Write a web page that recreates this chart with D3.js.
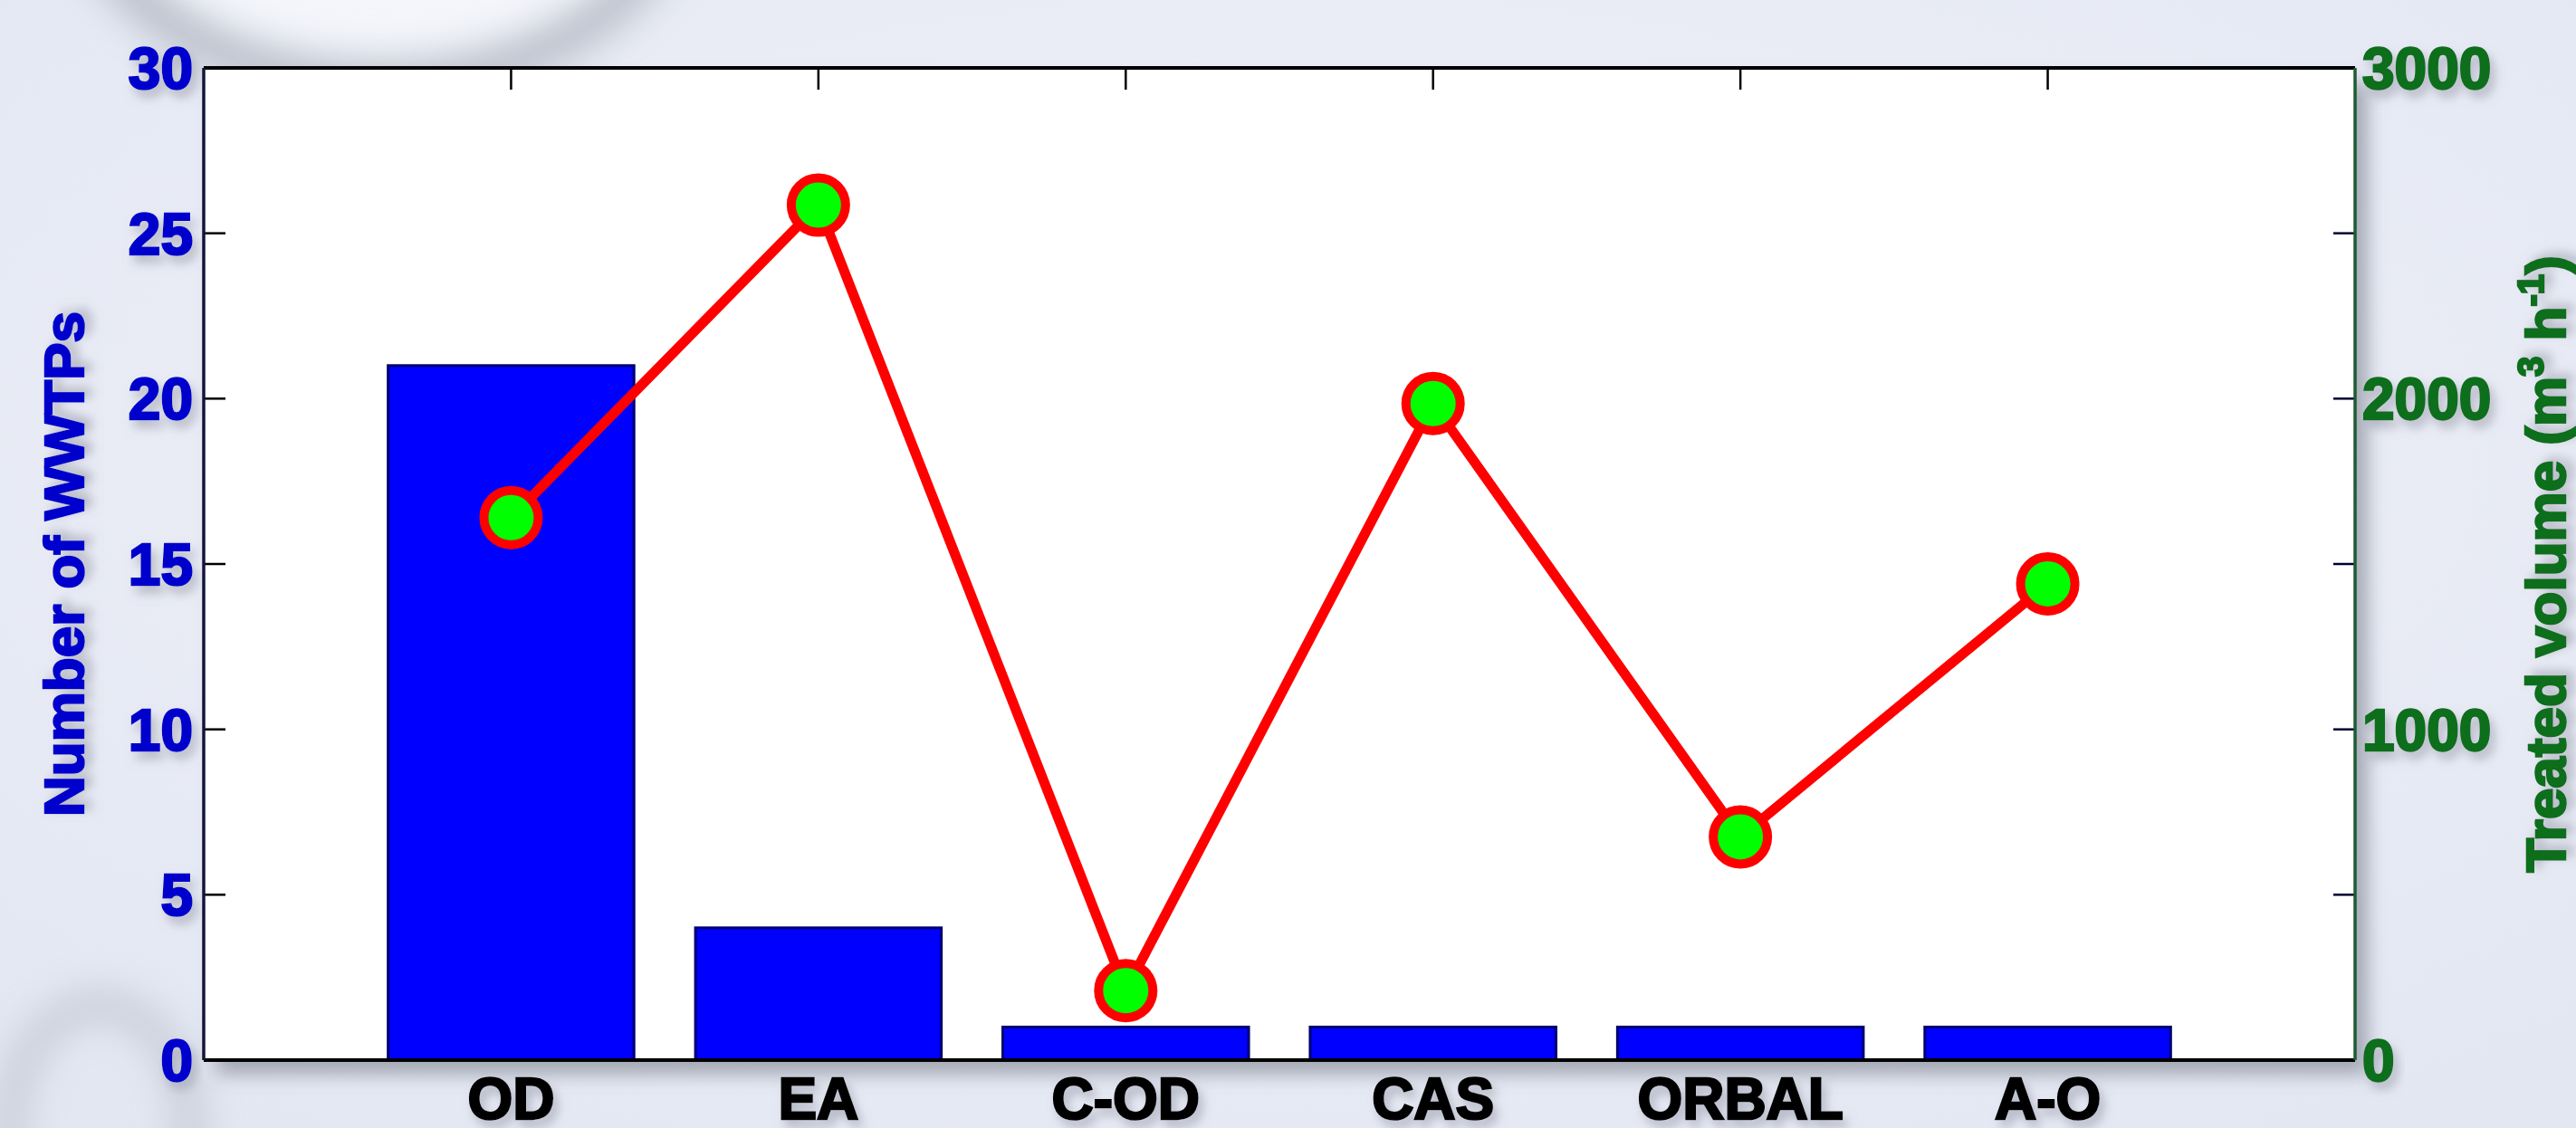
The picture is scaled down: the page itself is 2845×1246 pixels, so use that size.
<!DOCTYPE html>
<html>
<head>
<meta charset="utf-8">
<script src="https://cdn.jsdelivr.net/npm/d3@7"></script>
<style>
  body { margin: 0; background: #e9edf6; overflow: hidden; }
  text { font-family: "Liberation Sans", Arial, sans-serif; font-weight: bold; stroke-width: 2.5; }
</style>
</head>
<body>
<script>
// data
var categories = ["OD", "EA", "C-OD", "CAS", "ORBAL", "A-O"];
var plantCounts = [21, 4, 1, 1, 1, 1];
var treatedVolume = [1640, 2585, 210, 1985, 675, 1440];
var leftTicks = [0, 5, 10, 15, 20, 25, 30];
var rightTicks = [0, 500, 1000, 1500, 2000, 2500, 3000];
var rightLabels = [0, 1000, 2000, 3000];

var W = 2845, H = 1246;
var plotL = 225, plotR = 2601, plotT = 75, plotB = 1171;
var tickLen = 24;
var blue = "#0000cc", green = "#0a6e1e";

var svg = d3.select("body").append("svg")
  .attr("width", W).attr("height", H);

var defs = svg.append("defs");

var bg = defs.append("radialGradient").attr("id", "bgGrad")
  .attr("cx", "50%").attr("cy", "40%").attr("r", "75%");
bg.append("stop").attr("offset", "0%").attr("stop-color", "#f0f2f9");
bg.append("stop").attr("offset", "100%").attr("stop-color", "#e3e7f2");

defs.append("filter").attr("id", "blur30")
  .attr("x", "-50%").attr("y", "-50%").attr("width", "200%").attr("height", "200%")
  .append("feGaussianBlur").attr("stdDeviation", 22);

var boxShadow = defs.append("filter").attr("id", "boxShadow")
  .attr("x", "-5%").attr("y", "-5%").attr("width", "112%").attr("height", "115%");
boxShadow.append("feDropShadow").attr("dx", 14).attr("dy", 16)
  .attr("stdDeviation", 10).attr("flood-color", "#6d7380").attr("flood-opacity", 0.55);

var txtShadow = defs.append("filter").attr("id", "txtShadow")
  .attr("x", "-20%").attr("y", "-20%").attr("width", "150%").attr("height", "160%");
txtShadow.append("feDropShadow").attr("dx", 5).attr("dy", 8)
  .attr("stdDeviation", 6).attr("flood-color", "#8a8f9c").attr("flood-opacity", 0.55);

// background and the glossy blobs of the screenshot theme
svg.append("rect").attr("width", W).attr("height", H).attr("fill", "url(#bgGrad)");
svg.append("ellipse")
  .attr("cx", 420).attr("cy", -140).attr("rx", 330).attr("ry", 230)
  .attr("fill", "none").attr("stroke", "#8c919b").attr("stroke-width", 40)
  .attr("opacity", 0.55).attr("filter", "url(#blur30)");
svg.append("ellipse")
  .attr("cx", 420).attr("cy", -150).attr("rx", 300).attr("ry", 200)
  .attr("fill", "#f8f9fc").attr("opacity", 0.8).attr("filter", "url(#blur30)");
svg.append("ellipse")
  .attr("cx", 110).attr("cy", 1250).attr("rx", 100).attr("ry", 140)
  .attr("fill", "none").attr("stroke", "#9aa0aa").attr("stroke-width", 26)
  .attr("opacity", 0.5).attr("filter", "url(#blur30)");

// scales
var x = d3.scaleLinear().domain([0, categories.length + 1]).range([plotL, plotR]);
var yL = d3.scaleLinear().domain([0, 30]).range([plotB, plotT]);
var yR = d3.scaleLinear().domain([0, 3000]).range([plotB, plotT]);
var step = x(1) - x(0);
var barW = 0.8 * step;

// plot box
svg.append("rect")
  .attr("x", plotL).attr("y", plotT)
  .attr("width", plotR - plotL).attr("height", plotB - plotT)
  .attr("fill", "#ffffff").attr("filter", "url(#boxShadow)");

// x ticks (top and bottom, inward)
categories.forEach(function(c, i) {
  svg.append("line")
    .attr("x1", x(i + 1)).attr("x2", x(i + 1))
    .attr("y1", plotT).attr("y2", plotT + tickLen)
    .attr("stroke", "#000").attr("stroke-width", 2.5);
  svg.append("line")
    .attr("x1", x(i + 1)).attr("x2", x(i + 1))
    .attr("y1", plotB).attr("y2", plotB - tickLen)
    .attr("stroke", "#000").attr("stroke-width", 2.5);
});

// bars
svg.selectAll("rect.bar")
  .data(plantCounts)
  .enter().append("rect")
  .attr("class", "bar")
  .attr("x", function(d, i) { return x(i + 1) - barW / 2; })
  .attr("y", function(d) { return yL(d); })
  .attr("width", barW)
  .attr("height", function(d) { return yL(0) - yL(d); })
  .attr("fill", "#0000ff")
  .attr("stroke", "#000070")
  .attr("stroke-width", 3);

// left axis ticks + labels
leftTicks.forEach(function(t) {
  svg.append("line")
    .attr("x1", plotL).attr("x2", plotL + tickLen)
    .attr("y1", yL(t)).attr("y2", yL(t))
    .attr("stroke", "#000").attr("stroke-width", 2.5);
  svg.append("text")
    .attr("x", plotL - 12).attr("y", yL(t))
    .attr("dy", "0.36em")
    .attr("text-anchor", "end")
    .attr("font-size", 64)
    .attr("fill", blue).attr("stroke", blue)
    .attr("filter", "url(#txtShadow)")
    .text(t);
});

// right axis ticks + labels
rightTicks.forEach(function(t) {
  svg.append("line")
    .attr("x1", plotR).attr("x2", plotR - tickLen)
    .attr("y1", yR(t)).attr("y2", yR(t))
    .attr("stroke", "#000030").attr("stroke-width", 2.5);
});
rightLabels.forEach(function(t) {
  svg.append("text")
    .attr("x", plotR + 8).attr("y", yR(t))
    .attr("dy", "0.36em")
    .attr("font-size", 64)
    .attr("fill", green).attr("stroke", green)
    .attr("filter", "url(#txtShadow)")
    .text(t);
});

// axis lines
svg.append("line").attr("x1", plotL).attr("x2", plotR).attr("y1", plotT).attr("y2", plotT)
  .attr("stroke", "#000").attr("stroke-width", 4);
svg.append("line").attr("x1", plotL).attr("x2", plotR).attr("y1", plotB).attr("y2", plotB)
  .attr("stroke", "#000").attr("stroke-width", 4);
svg.append("line").attr("x1", plotL).attr("x2", plotL).attr("y1", plotT).attr("y2", plotB)
  .attr("stroke", "#14143c").attr("stroke-width", 3.5);
svg.append("line").attr("x1", plotR).attr("x2", plotR).attr("y1", plotT).attr("y2", plotB)
  .attr("stroke", "#1e5a32").attr("stroke-width", 3.5);

// category labels
svg.selectAll("text.cat")
  .data(categories)
  .enter().append("text")
  .attr("class", "cat")
  .attr("x", function(d, i) { return x(i + 1); })
  .attr("y", 1236)
  .attr("text-anchor", "middle")
  .attr("font-size", 64)
  .attr("fill", "#000").attr("stroke", "#000")
  .attr("filter", "url(#txtShadow)")
  .text(function(d) { return d; });

// treated volume line
var line = d3.line()
  .x(function(d, i) { return x(i + 1); })
  .y(function(d) { return yR(d); });

svg.append("path")
  .datum(treatedVolume)
  .attr("d", line)
  .attr("fill", "none")
  .attr("stroke", "#ff0000")
  .attr("stroke-width", 11)
  .attr("stroke-linejoin", "round");

svg.selectAll("circle.pt")
  .data(treatedVolume)
  .enter().append("circle")
  .attr("class", "pt")
  .attr("cx", function(d, i) { return x(i + 1); })
  .attr("cy", function(d) { return yR(d); })
  .attr("r", 30)
  .attr("fill", "#00ff00")
  .attr("stroke", "#ff0000")
  .attr("stroke-width", 10);

// axis titles
svg.append("text")
  .attr("transform", "translate(92," + ((plotT + plotB) / 2) + ") rotate(-90)")
  .attr("text-anchor", "middle")
  .attr("font-size", 62)
  .attr("fill", blue).attr("stroke", blue)
  .attr("filter", "url(#txtShadow)")
  .text("Number of WWTPs");

var rt = svg.append("text")
  .attr("transform", "translate(2833," + ((plotT + plotB) / 2) + ") rotate(-90)")
  .attr("text-anchor", "middle")
  .attr("font-size", 62)
  .attr("fill", green).attr("stroke", green)
  .attr("filter", "url(#txtShadow)");
rt.append("tspan").text("Treated volume (m");
rt.append("tspan").attr("font-size", 40).attr("dy", -24).text("3");
rt.append("tspan").attr("dy", 24).text(" h");
rt.append("tspan").attr("font-size", 40).attr("dy", -24).text("-1");
rt.append("tspan").attr("dy", 24).text(")");
</script>
</body>
</html>
